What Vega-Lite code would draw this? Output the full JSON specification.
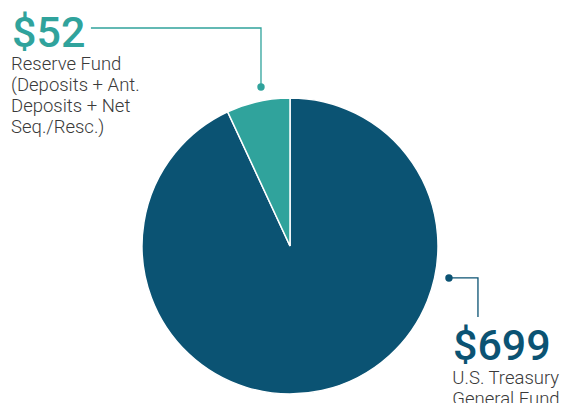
{
  "$schema": "https://vega.github.io/schema/vega-lite/v6.json",
  "width": 296,
  "height": 296,
  "padding": {"left": 142, "top": 98, "right": 126, "bottom": 9},
  "autosize": {"type": "none"},
  "background": "white",
  "config": {"view": {"stroke": null}, "font": "Roboto"},
  "datasets": {
    "funds": [
      {"fund": "U.S. Treasury General Fund", "amount": 699, "rank": 1},
      {"fund": "Reserve Fund", "amount": 52, "rank": 2}
    ],
    "connectors": [
      {"fund": "Reserve Fund", "step": 1, "u": -1.345, "v": -1.473},
      {"fund": "Reserve Fund", "step": 2, "u": -0.196, "v": -1.473},
      {"fund": "Reserve Fund", "step": 3, "u": -0.196, "v": -1.074},
      {"fund": "U.S. Treasury General Fund", "step": 1, "u": 1.074, "v": 0.216},
      {"fund": "U.S. Treasury General Fund", "step": 2, "u": 1.27, "v": 0.216},
      {"fund": "U.S. Treasury General Fund", "step": 3, "u": 1.27, "v": 0.48}
    ],
    "dots": [
      {"fund": "Reserve Fund", "u": -0.196, "v": -1.074},
      {"fund": "U.S. Treasury General Fund", "u": 1.074, "v": 0.216}
    ],
    "values": [
      {"fund": "Reserve Fund", "label": "$52", "u": -1.878, "v": -1.345},
      {"fund": "U.S. Treasury General Fund", "label": "$699", "u": 1.101, "v": 0.77}
    ],
    "descriptions": [
      {"fund": "Reserve Fund", "label": "Reserve Fund\n(Deposits + Ant.\nDeposits + Net\nSeq./Resc.)", "u": -1.885, "v": -1.192},
      {"fund": "U.S. Treasury General Fund", "label": "U.S. Treasury\nGeneral Fund", "u": 1.097, "v": 0.93}
    ]
  },
  "layer": [
    {
      "data": {"name": "funds"},
      "mark": {"type": "arc", "stroke": "white", "strokeWidth": 1.5},
      "encoding": {
        "theta": {"field": "amount", "type": "quantitative", "stack": true},
        "order": {"field": "rank", "type": "quantitative"},
        "color": {
          "field": "fund", "type": "nominal", "legend": null,
          "scale": {"domain": ["U.S. Treasury General Fund", "Reserve Fund"], "range": ["#0b5373", "#30a39c"]}
        }
      }
    },
    {
      "data": {"name": "connectors"},
      "mark": {"type": "line", "strokeWidth": 1.3, "clip": false},
      "encoding": {
        "x": {"field": "u", "type": "quantitative", "axis": null, "scale": {"domain": [-1, 1], "nice": false, "zero": false}},
        "y": {"field": "v", "type": "quantitative", "axis": null, "scale": {"domain": [-1, 1], "nice": false, "zero": false, "reverse": true}},
        "detail": {"field": "fund"},
        "order": {"field": "step", "type": "quantitative"},
        "color": {"field": "fund", "type": "nominal", "legend": null}
      }
    },
    {
      "data": {"name": "dots"},
      "mark": {"type": "point", "filled": true, "size": 55, "opacity": 1, "clip": false},
      "encoding": {
        "x": {"field": "u", "type": "quantitative"},
        "y": {"field": "v", "type": "quantitative"},
        "color": {"field": "fund", "type": "nominal", "legend": null}
      }
    },
    {
      "data": {"name": "values"},
      "mark": {"type": "text", "align": "left", "baseline": "alphabetic", "fontSize": 43, "fontWeight": 500, "font": "Roboto", "clip": false},
      "encoding": {
        "x": {"field": "u", "type": "quantitative"},
        "y": {"field": "v", "type": "quantitative"},
        "text": {"field": "label"},
        "color": {"field": "fund", "type": "nominal", "legend": null}
      }
    },
    {
      "data": {"name": "descriptions"},
      "mark": {"type": "text", "align": "left", "baseline": "alphabetic", "fontSize": 18.5, "fontWeight": 300, "font": "Roboto", "lineBreak": "\n", "lineHeight": 21, "color": "#3a3a3a", "clip": false},
      "encoding": {
        "x": {"field": "u", "type": "quantitative"},
        "y": {"field": "v", "type": "quantitative"},
        "text": {"field": "label"}
      }
    }
  ]
}
